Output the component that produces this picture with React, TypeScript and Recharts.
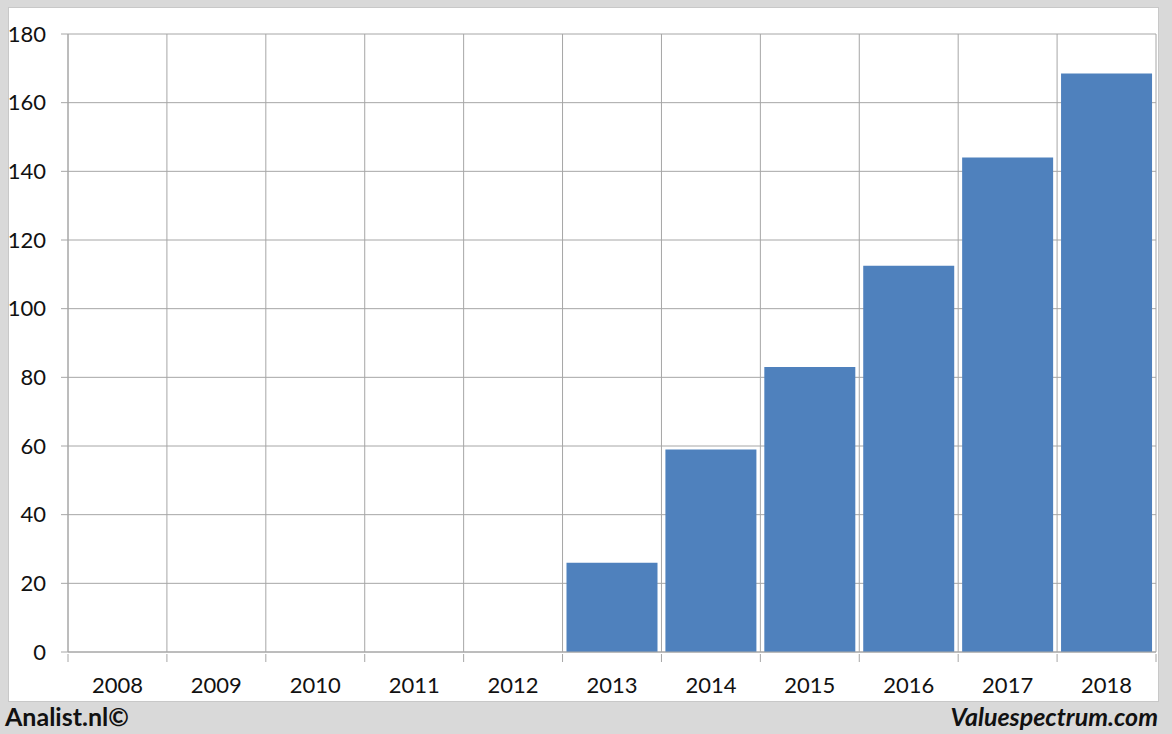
import React from "react";
import { Bar, BarChart, CartesianGrid, XAxis, YAxis } from "recharts";

const years = ["2008", "2009", "2010", "2011", "2012", "2013", "2014", "2015", "2016", "2017", "2018"];
const values = [0, 0, 0, 0, 0, 26, 59, 83, 112.5, 144, 168.5];
const yTicks = [0, 20, 40, 60, 80, 100, 120, 140, 160, 180];

const data = years.map((year, i) => ({ year, value: values[i] }));

const W = 1172;
const H = 734;
const FONT = "Lato, 'Open Sans', sans-serif";
const GRID = "#a6a6a6";

function YearTick(props: any) {
  const { x, y, payload, index, visibleTicksCount } = props;
  const band = (W - 68 - 16) / years.length;
  const left = x - band / 2;
  const last = index === (visibleTicksCount ?? years.length) - 1;
  const y0 = y - 6;
  return (
    <g>
      <line x1={left} y1={y0} x2={left} y2={y0 + 8} stroke={GRID} />
      {last && <line x1={x + band / 2} y1={y0} x2={x + band / 2} y2={y0 + 8} stroke={GRID} />}
      <text x={x} y={y0 + 33} textAnchor="middle" dominantBaseline="middle" fontSize={22} fontFamily={FONT} fill="#111">
        {payload.value}
      </text>
    </g>
  );
}

export default function App() {
  return (
    <div style={{ position: "absolute", left: 0, top: 0, width: W, height: H, background: "#d9d9d9", fontFamily: FONT }}>
      <div style={{ position: "absolute", left: 8, top: 7, width: 1151, height: 695, background: "#fff", border: "1px solid #c8c8c8", boxSizing: "border-box" }} />
      <div style={{ position: "absolute", left: 0, top: 0 }}>
        <BarChart width={W} height={H} data={data} margin={{ top: 34, right: 16, bottom: 42, left: 8 }} barCategoryGap="4%">
          <CartesianGrid
            stroke={GRID}
            verticalCoordinatesGenerator={({ offset }: any) =>
              years.map((_, i) => offset.left + (i * offset.width) / years.length).concat([offset.left + offset.width])
            }
          />
          <XAxis dataKey="year" height={40} axisLine={{ stroke: GRID }} tickLine={false} tick={<YearTick />} interval={0} />
          <YAxis
            width={60}
            domain={[0, 180]}
            ticks={yTicks}
            axisLine={{ stroke: GRID }}
            tickLine={{ stroke: GRID }}
            tickSize={7}
            tickMargin={15}
            tick={{ fontSize: 22, fontFamily: FONT, fill: "#111" }}
          />
          <Bar dataKey="value" fill="#4f81bd" isAnimationActive={false} />
        </BarChart>
      </div>
      <div style={{ position: "absolute", left: 5, top: 701, fontSize: 25, fontWeight: 700, color: "#111" }}>Analist.nl©</div>
      <div style={{ position: "absolute", right: 14, top: 701, fontSize: 25, fontWeight: 700, fontStyle: "italic", color: "#111" }}>
        Valuespectrum.com
      </div>
    </div>
  );
}
